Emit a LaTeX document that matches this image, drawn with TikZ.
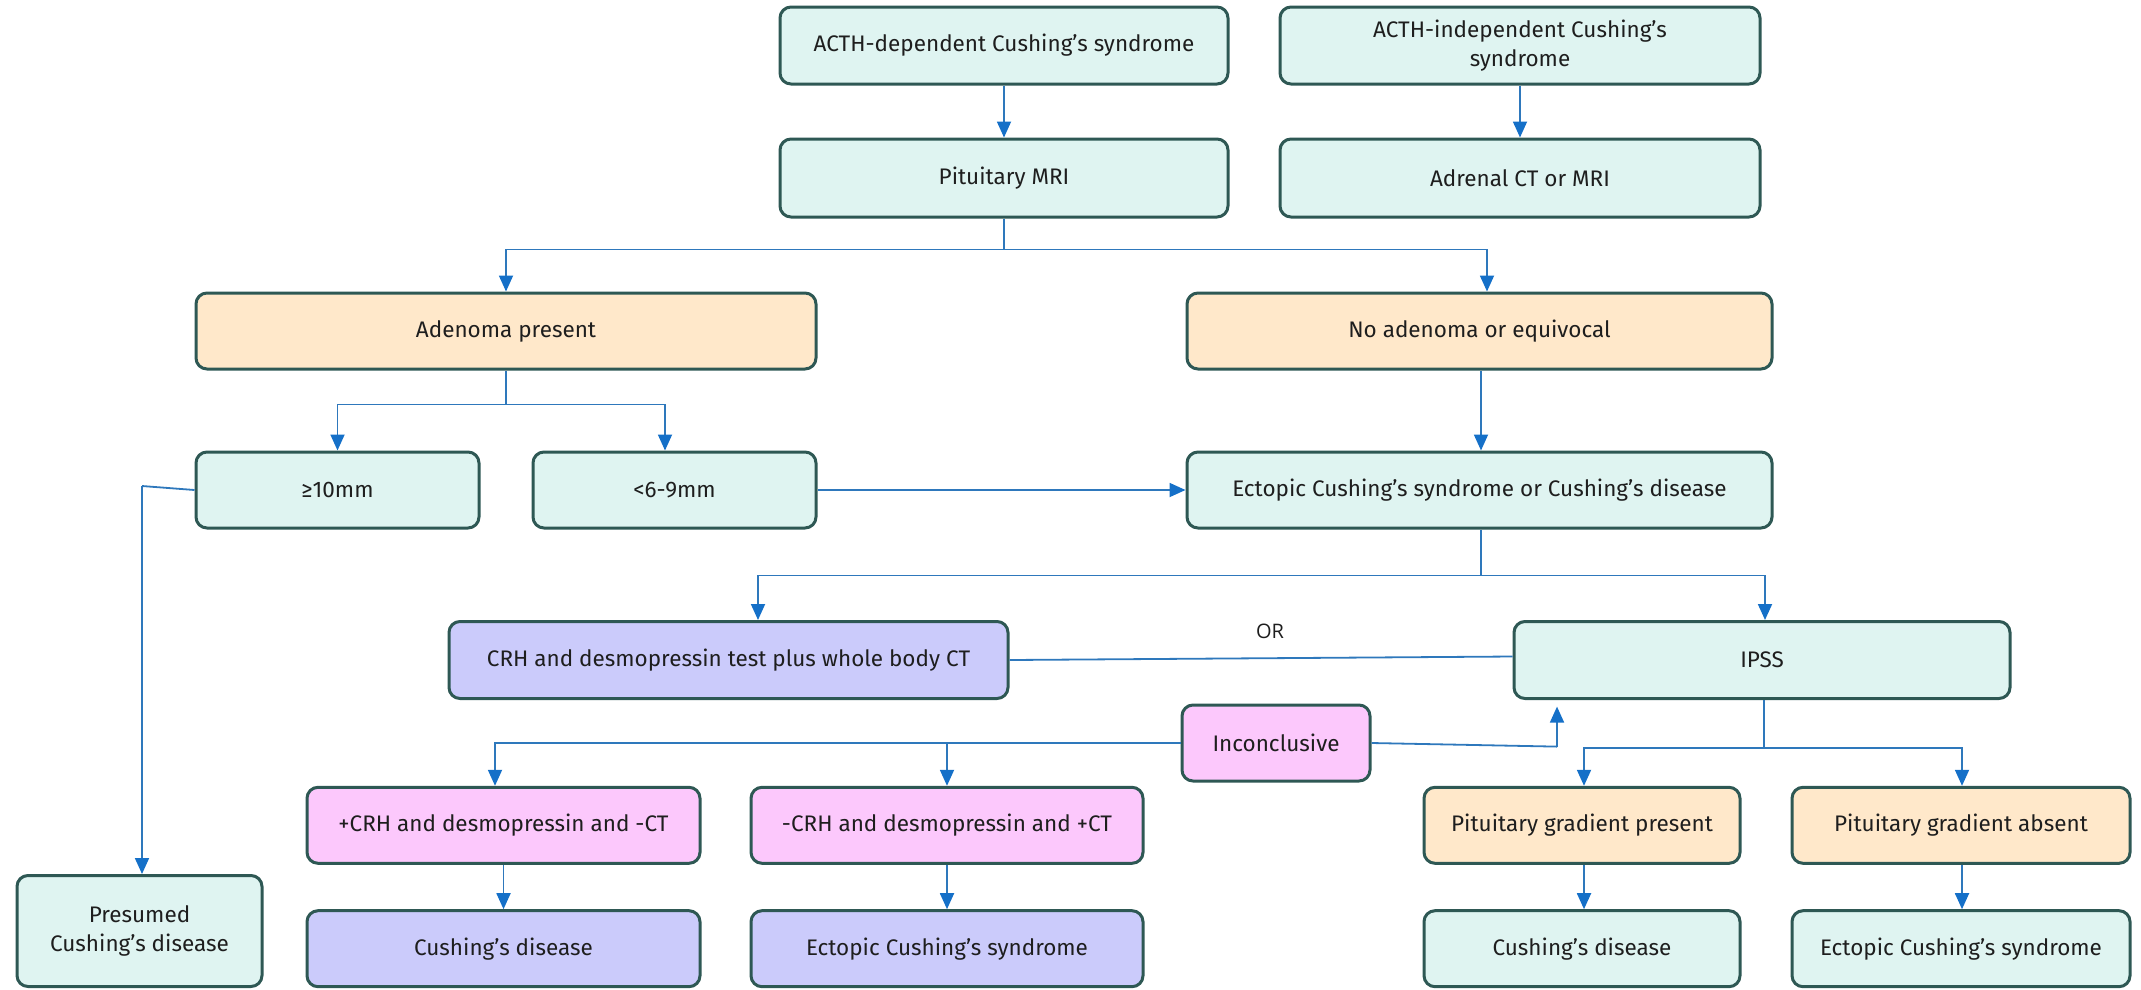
\documentclass[tikz,border=0pt]{standalone}
\usepackage{fontspec}
\setmainfont{Fira Sans}
\newfontfamily\orfont{Open Sans}
\usetikzlibrary{arrows.meta,calc}
\definecolor{tealfill}{HTML}{DFF4F1}
\definecolor{peachfill}{HTML}{FFE8CA}
\definecolor{lavfill}{HTML}{CBCBFB}
\definecolor{pinkfill}{HTML}{FCC8FC}
\definecolor{boxline}{HTML}{2E5854}
\definecolor{linkblue}{HTML}{2E78BC}
\definecolor{tipblue}{HTML}{1570C8}
\definecolor{txt}{HTML}{1E1E1E}
\tikzset{
  box/.style={draw=boxline, line width=3pt, rounded corners=11pt, text=txt,
    font=\fontsize{22.5}{29}\selectfont, align=center, inner sep=0pt},
  tealbox/.style={box, fill=tealfill},
  peachbox/.style={box, fill=peachfill},
  lavbox/.style={box, fill=lavfill},
  pinkbox/.style={box, fill=pinkfill},
  link/.style={draw=linkblue, line width=1.8pt},
  arr/.style={link, -{Triangle[length=16pt,width=14pt,color=tipblue]}},
}
\begin{document}
\begin{tikzpicture}[x=1pt,y=-1pt]
\useasboundingbox (0,0) rectangle (2141,989);
% boxes: centre, width, height
\node[tealbox, minimum width=448pt, minimum height=77pt] (dep) at (1004,45.5) {ACTH-dependent Cushing’s syndrome};
\node[tealbox, minimum width=480pt, minimum height=77pt] (indep) at (1520,45.5) {ACTH-independent Cushing’s\\syndrome};
\node[tealbox, minimum width=448pt, minimum height=78pt] (mri) at (1004,178) {Pituitary MRI};
\node[tealbox, minimum width=480pt, minimum height=78pt] (adrenal) at (1520,178) {Adrenal CT or MRI};
\node[peachbox, minimum width=620pt, minimum height=76pt] (aden) at (506,331) {Adenoma present};
\node[peachbox, minimum width=585pt, minimum height=76pt] (noaden) at (1479.5,331) {No adenoma or equivocal};
\node[tealbox, minimum width=283pt, minimum height=76pt] (big) at (337.5,490) {≥10mm};
\node[tealbox, minimum width=283pt, minimum height=76pt] (small) at (674.5,490) {<6-9mm};
\node[tealbox, minimum width=585pt, minimum height=76pt] (either) at (1479.5,490) {Ectopic Cushing’s syndrome or Cushing’s disease};
\node[lavbox, minimum width=559pt, minimum height=77pt] (crh) at (728.5,660) {CRH and desmopressin test plus whole body CT};
\node[tealbox, minimum width=496pt, minimum height=77pt] (ipss) at (1762,660) {IPSS};
\node[pinkbox, minimum width=188pt, minimum height=76pt] (incon) at (1276,743) {Inconclusive};
\node[pinkbox, minimum width=393pt, minimum height=76pt] (pos) at (503.5,825.3) {+CRH and desmopressin and -CT};
\node[pinkbox, minimum width=392pt, minimum height=76pt] (neg) at (947,825.3) {-CRH and desmopressin and +CT};
\node[peachbox, minimum width=316pt, minimum height=76pt] (grad) at (1582,825.3) {Pituitary gradient present};
\node[peachbox, minimum width=338pt, minimum height=76pt] (nograd) at (1961,825.3) {Pituitary gradient absent};
\node[tealbox, minimum width=245pt, minimum height=111pt] (presumed) at (139.5,931) {Presumed\\Cushing’s disease};
\node[lavbox, minimum width=393pt, minimum height=76pt] (cdA) at (503.5,948.7) {Cushing’s disease};
\node[lavbox, minimum width=392pt, minimum height=76pt] (ecsA) at (947,948.7) {Ectopic Cushing’s syndrome};
\node[tealbox, minimum width=316pt, minimum height=76pt] (cdB) at (1582,948.7) {Cushing’s disease};
\node[tealbox, minimum width=338pt, minimum height=76pt] (ecsB) at (1961,948.7) {Ectopic Cushing’s syndrome};
\node[text=txt, font=\orfont\fontsize{20}{24}\selectfont] (or) at (1270,631) {OR};

% connectors
\draw[arr] (dep.south) -- (mri.north);
\draw[arr] (indep.south) -- (adrenal.north);
\draw[link] (mri.south) -- ++(0,31) coordinate (mriJ);
\draw[arr] (mriJ) -| (aden.north);
\draw[arr] (mriJ) -| ([xshift=7.5pt]noaden.north);
\draw[link] (aden.south) -- ++(0,34) coordinate (adenJ);
\draw[arr] (adenJ) -| (big.north);
\draw[arr] (adenJ) -| ([xshift=-9.5pt]small.north);
\coordinate (bigK) at (142,486);
\draw[link] (big.west) -- (bigK);
\draw[arr] (bigK) -- (bigK |- presumed.north);
\draw[arr] (small.east) -- (either.west);
\draw[arr] ([xshift=1.5pt]noaden.south) -- ([xshift=1.5pt]either.north);
\draw[link] ([xshift=1.5pt]either.south) -- ++(0,46) coordinate (eitherJ);
\draw[arr] (eitherJ) -| ([xshift=29.5pt]crh.north);
\draw[arr] (eitherJ) -| ([xshift=3pt]ipss.north);
\draw[link] (crh.east) -- ([yshift=3.5pt]ipss.west);
\draw[link] (incon.west) -- ++(-320,0) coordinate (inconL);
\draw[arr] (inconL) -| ([xshift=-8.5pt]pos.north);
\draw[arr] (inconL) -| (neg.north);
\coordinate (inconR) at (1557,746.6);
\draw[link] (incon.east) -- (inconR);
\draw[arr] (inconR) -- (1557,706.6);
\draw[link] ([xshift=2pt]ipss.south) -- ++(0,48) coordinate (ipssJ);
\draw[arr] (ipssJ) -| ([xshift=2pt]grad.north);
\draw[arr] (ipssJ) -| ([xshift=1pt]nograd.north);
\draw[arr] (pos.south) -- (cdA.north);
\draw[arr] (neg.south) -- (ecsA.north);
\draw[arr] ([xshift=2pt]grad.south) -- ([xshift=2pt]cdB.north);
\draw[arr] ([xshift=1pt]nograd.south) -- ([xshift=1pt]ecsB.north);
\end{tikzpicture}
\end{document}
